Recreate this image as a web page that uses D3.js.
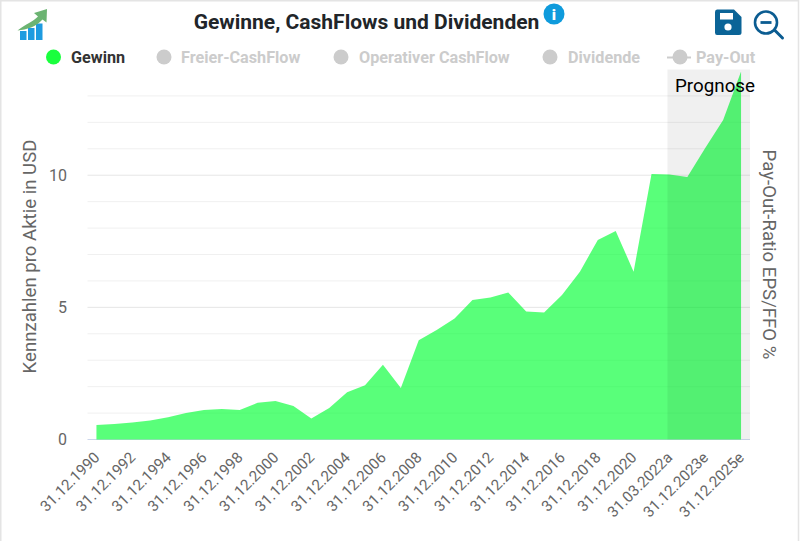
<!DOCTYPE html>
<html>
<head>
<meta charset="utf-8">
<script src="https://cdnjs.cloudflare.com/ajax/libs/d3/7.8.5/d3.min.js"></script>
<style>
  html, body { margin: 0; padding: 0; background: #fff; }
  svg { display: block; font-family: Roboto, sans-serif; }
  .x-axis path, .x-axis line, .y-axis path, .y-axis line { display: none; }
</style>
</head>
<body>
<svg id="chart" width="800" height="541"></svg>
<script>
// values
var categories = [
  "31.12.1990", "31.12.1991", "31.12.1992", "31.12.1993", "31.12.1994", "31.12.1995",
  "31.12.1996", "31.12.1997", "31.12.1998", "31.12.1999", "31.12.2000", "31.12.2001",
  "31.12.2002", "31.12.2003", "31.12.2004", "31.12.2005", "31.12.2006", "31.12.2007",
  "31.12.2008", "31.12.2009", "31.12.2010", "31.12.2011", "31.12.2012", "31.12.2013",
  "31.12.2014", "31.12.2015", "31.12.2016", "31.12.2017", "31.12.2018", "31.12.2019",
  "31.12.2020", "31.12.2021", "31.03.2022a", "31.12.2022e", "31.12.2023e", "31.12.2024e",
  "31.12.2025e"
];
var gewinn = [
  0.55, 0.59, 0.64, 0.72, 0.84, 1.0, 1.12, 1.15, 1.12, 1.39, 1.46, 1.27, 0.79,
  1.19, 1.79, 2.05, 2.83, 1.95, 3.76, 4.14, 4.58, 5.28, 5.37, 5.56, 4.84, 4.81,
  5.47, 6.35, 7.55, 7.89, 6.35, 10.05, 10.03, 9.93, 11.03, 12.09, 13.92
];
var gridValues = [0, 1, 2, 3, 4, 5, 6, 7, 8, 9, 10, 11, 12, 13];
var yTickLabels = [0, 5, 10];
var xTickLabels = categories.filter(function (c, i) { return i % 2 === 0; });
var prognoseStart = "31.03.2022a";
var legendNames = ["Gewinn", "Freier-CashFlow", "Operativer CashFlow", "Dividende", "Pay-Out"];

const svg = d3.select("#chart");

// thin frame of the widget, only top, left and right show
svg.append("path")
  .attr("d", "M0.75,541V0.75H798.5V541")
  .attr("fill", "none")
  .attr("stroke", "#e4e4e4")
  .attr("stroke-width", 1.5);

const xScale = d3.scaleBand()
  .domain(categories)
  .range([87.5, 750]);
const xCenter = function (c) { return xScale(c) + xScale.bandwidth() / 2; };

const yScale = d3.scaleLinear()
  .domain([0, 14])
  .range([439.5, 69.5]);

// grid
svg.append("g").selectAll("line")
  .data(gridValues)
  .enter()
  .append("line")
  .attr("x1", 87.5)
  .attr("x2", 750)
  .attr("y1", function (d) { return yScale(d); })
  .attr("y2", function (d) { return yScale(d); })
  .attr("stroke", function (d) { return d === 0 ? "#ccd6eb" : d % 5 === 0 ? "#e6e6e6" : "#f0f0f0"; })
  .attr("stroke-width", 1);

// the area
const area = d3.area()
  .x(function (d, i) { return xCenter(categories[i]); })
  .y0(yScale(0))
  .y1(function (d) { return yScale(d); });

svg.append("path")
  .datum(gewinn)
  .attr("d", area)
  .attr("fill", "#00ff33")
  .attr("fill-opacity", 0.65);

// forecast band goes over the area, it darkens it a bit
svg.append("rect")
  .attr("x", xCenter(prognoseStart) - 2)
  .attr("y", yScale(14))
  .attr("width", 750 - xCenter(prognoseStart) + 2)
  .attr("height", yScale(0) - yScale(14))
  .attr("fill", "#000")
  .attr("fill-opacity", 0.06);

svg.append("text")
  .attr("x", 675)
  .attr("y", 92)
  .attr("font-size", 18.8)
  .attr("fill", "#000")
  .text("Prognose");

// axes
const yAxis = svg.append("g")
  .attr("class", "y-axis")
  .attr("transform", "translate(75,0)")
  .call(d3.axisLeft(yScale).tickValues(yTickLabels).tickSize(0).tickPadding(8));
yAxis.selectAll("text")
  .attr("font-size", 16)
  .attr("font-family", "Roboto, sans-serif")
  .attr("fill", "#666");

const xAxis = svg.append("g")
  .attr("class", "x-axis")
  .attr("transform", "translate(0,439.5)")
  .call(d3.axisBottom(xScale).tickValues(xTickLabels).tickSize(0));
xAxis.selectAll("text")
  .attr("font-size", 15.2)
  .attr("font-family", "Roboto, sans-serif")
  .attr("fill", "#666")
  .attr("text-anchor", "end")
  .attr("dy", 0)
  .attr("y", 0)
  .attr("transform", "translate(4,19) rotate(-45)");

// axis titles
svg.append("text")
  .attr("transform", "translate(36,256.5) rotate(-90)")
  .attr("text-anchor", "middle")
  .attr("font-size", 18.6)
  .attr("fill", "#666")
  .text("Kennzahlen pro Aktie in USD");

svg.append("text")
  .attr("transform", "translate(763,254.5) rotate(90)")
  .attr("text-anchor", "middle")
  .attr("font-size", 18.6)
  .attr("fill", "#666")
  .text("Pay-Out-Ratio EPS/FFO %");

// title
svg.append("text")
  .attr("x", 366.5)
  .attr("y", 29)
  .attr("text-anchor", "middle")
  .attr("font-size", 21)
  .attr("font-weight", 700)
  .attr("fill", "#212529")
  .text("Gewinne, CashFlows und Dividenden");

// legend
var legendDotX = [53.5, 164, 341, 550, 680];
var legendTextX = [71, 181, 359, 568, 696];
const legend = svg.append("g");
legendNames.forEach(function (name, i) {
  const on = i === 0;
  if (name === "Pay-Out") {
    legend.append("line")
      .attr("x1", legendDotX[i] - 13).attr("x2", legendDotX[i] + 11)
      .attr("y1", 57.5).attr("y2", 57.5)
      .attr("stroke", "#ccc").attr("stroke-width", 2);
  }
  legend.append("circle")
    .attr("cx", legendDotX[i])
    .attr("cy", 57)
    .attr("r", 7.5)
    .attr("fill", on ? "#1aff3e" : "#ccc");
  legend.append("text")
    .attr("x", legendTextX[i])
    .attr("y", 62.5)
    .attr("font-size", 16.2)
    .attr("font-weight", 700)
    .attr("fill", on ? "#333" : "#ccc")
    .text(name);
});

// logo top left
const logo = svg.append("g");
[[20, 31, 9], [28, 28, 12], [36, 23.5, 16.5]].forEach(function (b) {
  logo.append("rect")
    .attr("x", b[0]).attr("y", b[1]).attr("width", 6.5).attr("height", b[2])
    .attr("fill", "#1e9be0");
});
logo.append("path")
  .attr("d", "M17.5,30.5C26,24 33,21.5 38,16.5L34,13L47,9L46.5,22.5L42.5,19.5C36,27 27,29.5 17.5,30.5Z")
  .attr("fill", "#6cb472");

// info badge
svg.append("circle").attr("cx", 554).attr("cy", 14).attr("r", 10.5).attr("fill", "#0f9bdc");
svg.append("text")
  .attr("x", 554).attr("y", 19.5)
  .attr("text-anchor", "middle")
  .attr("font-size", 15.5)
  .attr("font-weight", 900)
  .attr("fill", "#fff")
  .text("i");

// save icon
svg.append("path")
  .attr("d", "M717,9.5H734L741.5,17V32.5Q741.5,35 739,35H717Q715,35 715,32.5V12Q715,9.5 717,9.5Z")
  .attr("fill", "#0b6497");
svg.append("rect").attr("x", 720).attr("y", 13).attr("width", 13).attr("height", 6.5).attr("fill", "#fff");
svg.append("circle").attr("cx", 728).attr("cy", 27).attr("r", 3.6).attr("fill", "#fff");

// zoom out icon
svg.append("circle")
  .attr("cx", 766).attr("cy", 22.5).attr("r", 11)
  .attr("fill", "none").attr("stroke", "#0b5c91").attr("stroke-width", 2.6);
svg.append("line")
  .attr("x1", 760.5).attr("x2", 771.5).attr("y1", 22.5).attr("y2", 22.5)
  .attr("stroke", "#0b5c91").attr("stroke-width", 2.8);
svg.append("line")
  .attr("x1", 775).attr("x2", 782.5).attr("y1", 30.5).attr("y2", 38)
  .attr("stroke", "#0b5c91").attr("stroke-width", 3).attr("stroke-linecap", "round");
</script>
</body>
</html>
